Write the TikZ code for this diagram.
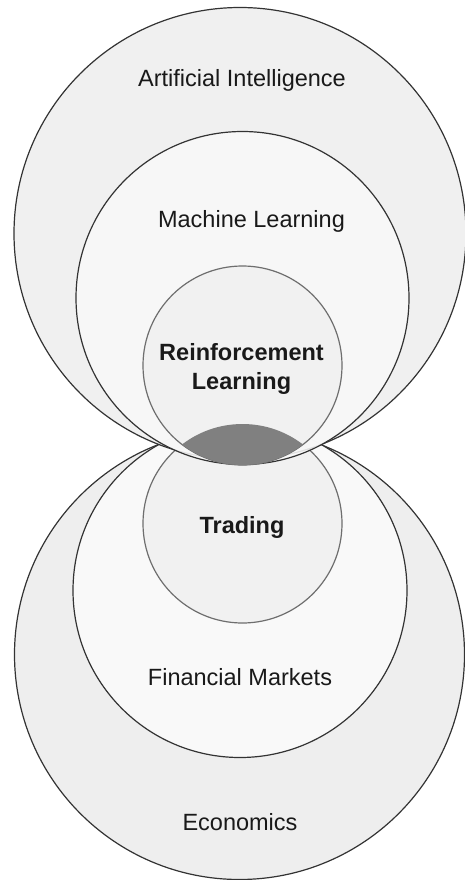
\documentclass[tikz,border=0pt]{standalone}
\usepackage{fontspec}
\setmainfont{Liberation Sans}
\definecolor{ringdark}{HTML}{EEEEEE}
\definecolor{ringlight}{HTML}{F9F9F9}
\definecolor{core}{HTML}{F1F1F1}
\definecolor{edgedark}{HTML}{333333}
\definecolor{edgelight}{HTML}{6E6E6E}
\definecolor{overlap}{HTML}{808080}

\begin{document}
\begin{tikzpicture}[x=1pt,y=-1pt,
  outer/.style={fill=ringdark,draw=edgedark,line width=1.2pt},
  middle/.style={fill=ringlight,draw=edgedark,line width=1.2pt},
  inner/.style={fill=core,draw=edgelight,line width=1.2pt},
  caption/.style={font=\fontsize{23.5}{29}\selectfont,text=black!90,anchor=base,inner sep=0pt,align=center},
  strong/.style={caption,font=\fontsize{23.5}{29}\selectfont\bfseries}]
	 \useasboundingbox (0,0) rectangle (464,880);

	 \coordinate (ai) at (240,233.5);
	 \coordinate (ml) at (242.5,298);
	 \coordinate (rl) at (242.5,365.5);
	 \coordinate (trade) at (242.5,523.5);
	 \coordinate (fm) at (240,590.5);
	 \coordinate (econ) at (239.5,654.5);

	 % lower set
	 \draw[outer] (econ) circle[radius=225pt];
	 \draw[middle] (fm) circle[radius=167pt];
	 \draw[inner] (trade) circle[radius=99.5pt];

	 % upper set
	 \begin{scope}[fill opacity=0.88]
	 \draw[outer] (ai) circle[radius=226pt];
	 \draw[middle] (ml) circle[radius=166.5pt];
	 \draw[inner] (rl) circle[radius=99.5pt];
	 \end{scope}

	 % overlap of the two cores
	 \begin{scope}
	 \clip (rl) circle[radius=99.5pt];
	 \fill[overlap] (trade) circle[radius=99.5pt];
	 \end{scope}

	 \node at (242,87) [caption] (aitext) {Artificial Intelligence};
	 \node at (251.5,227) [caption] (mltext) {Machine Learning};
	 \node at (241.5,389) [strong] (rltext) {Reinforcement\\Learning};
	 \node at (242,533) [strong] (tradetext) {Trading};
	 \node at (240,685) [caption] (fmtext) {Financial Markets};
	 \node at (240,830) [caption] (econtext) {Economics};

\end{tikzpicture}
\end{document}
